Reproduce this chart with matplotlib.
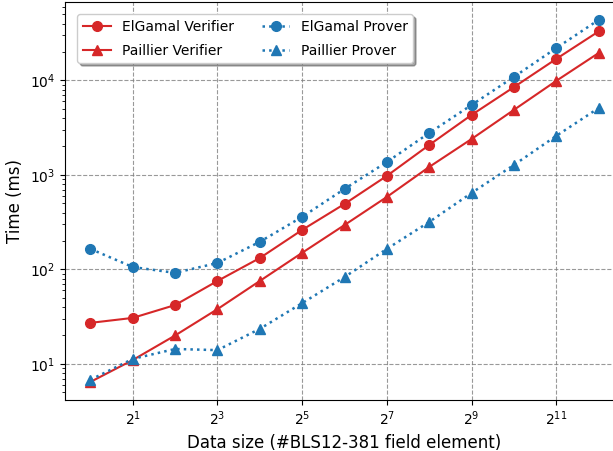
import matplotlib
matplotlib.use("Agg")
import matplotlib.pyplot as plt
from matplotlib.ticker import NullLocator

# data size (#BLS12-381 field elements)
sizes = [2 ** k for k in range(13)]

# times in ms
elgamal_verifier = [27.2, 30.7, 42, 75.5, 132, 262, 493, 977, 2075, 4315, 8500, 16900, 33000]
paillier_verifier = [6.45, 11.0, 20.0, 38.0, 75.5, 150, 295, 585, 1215, 2400, 4880, 9900, 19500]
elgamal_prover = [165, 106, 92, 117, 196, 360, 711, 1370, 2780, 5500, 10900, 22000, 43700]
paillier_prover = [6.8, 11.3, 14.4, 14.0, 23.5, 44, 83, 165, 318, 645, 1275, 2590, 5100]

xtick_pos = [2 ** k for k in range(1, 12, 2)]

fig = plt.figure(figsize=(6.13, 4.51), dpi=100)
ax = fig.add_axes([0.106, 0.113, 0.912, 0.883])

ms = 7
ax.plot(sizes, elgamal_verifier, "o-", color="tab:red", ms=ms, label="ElGamal Verifier")
ax.plot(sizes, paillier_verifier, "^-", color="tab:red", ms=ms, label="Paillier Verifier")
ax.plot(sizes, elgamal_prover, "o:", color="tab:blue", ms=ms, lw=1.8, label="ElGamal Prover")
ax.plot(sizes, paillier_prover, "^:", color="tab:blue", ms=ms, lw=1.8, label="Paillier Prover")

ax.set_xscale("log", base=2)
ax.set_yscale("log")
ax.set_xticks(xtick_pos)
ax.xaxis.set_minor_locator(NullLocator())
ax.grid(True, which="major", ls="--", color="gray", alpha=0.8)
ax.set_xlabel("Data size (#BLS12-381 field element)", fontsize=12)
ax.set_ylabel("Time (ms)", fontsize=12)
ax.legend(loc="upper left", ncol=2, shadow=True, fontsize=10,
          borderaxespad=0.9, labelspacing=0.7)

fig.savefig("out.png", dpi=100)
